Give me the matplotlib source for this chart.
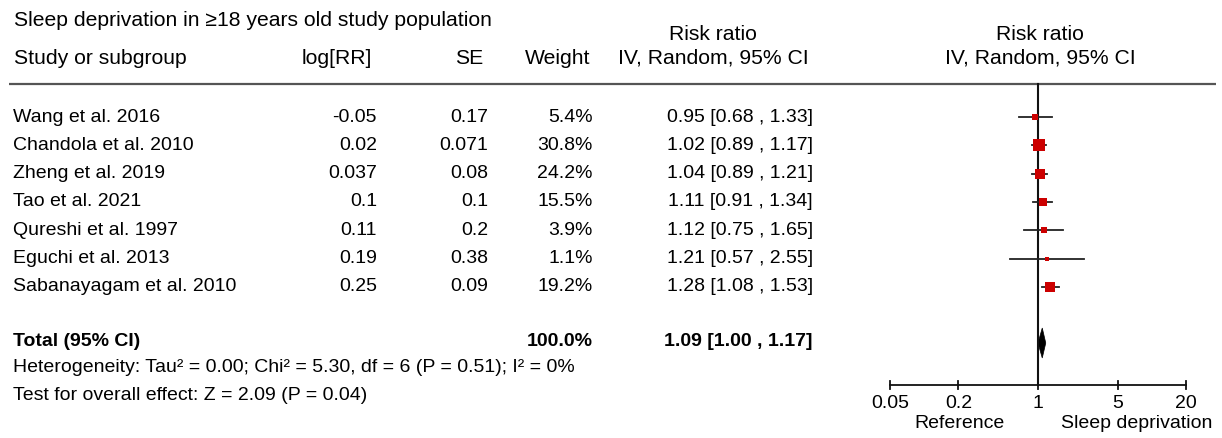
import matplotlib
matplotlib.use('Agg')
import matplotlib.pyplot as plt
from matplotlib.patches import Polygon
import numpy as np

plt.rcParams['font.family'] = ['Liberation Sans', 'DejaVu Sans']

# ---------------- data ----------------
title = "Sleep deprivation in \u226518 years old study population"
studies = ["Wang et al. 2016", "Chandola et al. 2010", "Zheng et al. 2019",
           "Tao et al. 2021", "Qureshi et al. 1997", "Eguchi et al. 2013",
           "Sabanayagam et al. 2010"]
log_rr = ["-0.05", "0.02", "0.037", "0.1", "0.11", "0.19", "0.25"]
se = ["0.17", "0.071", "0.08", "0.1", "0.2", "0.38", "0.09"]
weights = [5.4, 30.8, 24.2, 15.5, 3.9, 1.1, 19.2]
rr = [0.95, 1.02, 1.04, 1.11, 1.12, 1.21, 1.28]
ci_low = [0.68, 0.89, 0.89, 0.91, 0.75, 0.57, 1.08]
ci_high = [1.33, 1.17, 1.21, 1.34, 1.65, 2.55, 1.53]
total_rr, total_low, total_high = 1.09, 1.00, 1.17
total_weight = "100.0%"
heterogeneity = "Heterogeneity: Tau\u00b2 = 0.00; Chi\u00b2 = 5.30, df = 6 (P = 0.51); I\u00b2 = 0%"
overall_effect = "Test for overall effect: Z = 2.09 (P = 0.04)"
xticks = [0.05, 0.2, 1, 5, 20]
xticklabels = ["0.05", "0.2", "1", "5", "20"]
left_label, right_label = "Reference", "Sleep deprivation"

# ---------------- layout ----------------
W, H = 1222, 438
fig = plt.figure(figsize=(W / 100, H / 100), dpi=100)
ax = fig.add_axes([0, 0, 1, 1])
ax.set_xlim(0, W)
ax.set_ylim(H, 0)
ax.axis('off')

axf = fig.add_axes([890 / W, 0, 296 / W, 1])
axf.set_xscale('log')
axf.set_xlim(0.05, 20)
axf.set_ylim(H, 0)
axf.axis('off')

fs = 14.0      # table rows
fs_h = 15.2    # title / headers
fs_t = 14.0    # axis labels
row_y0, dy = 117, 28.33
ys = [row_y0 + i * dy for i in range(len(studies))]
y_total = 341
y_het, y_test = 367, 395
y_axis = 385

x_name, x_log, x_se, x_w, x_ci, x_rhead = 13, 377, 488, 593, 813, 1040
x_rr_head = 713

kw = dict(fontsize=fs, va='center', color='black')
kh = dict(fontsize=fs_h, va='center', color='black')
ax.text(x_name + 1, 20, title, ha='left', **kh)
ax.text(x_name + 1, 58, "Study or subgroup", ha='left', **kh)
ax.text(372, 58, "log[RR]", ha='right', **kh)
ax.text(483, 58, "SE", ha='right', **kh)
ax.text(590, 58, "Weight", ha='right', **kh)
ax.text(x_rr_head, 34, "Risk ratio", ha='center', **kh)
ax.text(x_rr_head, 58, "IV, Random, 95% CI", ha='center', **kh)
ax.text(x_rhead, 34, "Risk ratio", ha='center', **kh)
ax.text(x_rhead, 58, "IV, Random, 95% CI", ha='center', **kh)

ax.plot([9, 1216], [84, 84], color='#555555', lw=1.6, solid_capstyle='butt')

for i, y in enumerate(ys):
    ax.text(x_name, y, studies[i], ha='left', **kw)
    ax.text(x_log, y, log_rr[i], ha='right', **kw)
    ax.text(x_se, y, se[i], ha='right', **kw)
    ax.text(x_w, y, f"{weights[i]:.1f}%", ha='right', **kw)
    ax.text(x_ci, y, f"{rr[i]:.2f} [{ci_low[i]:.2f} , {ci_high[i]:.2f}]", ha='right', **kw)

ax.text(x_name, y_total, "Total (95% CI)", ha='left', fontweight='bold', **kw)
ax.text(x_w, y_total, total_weight, ha='right', fontweight='bold', **kw)
ax.text(x_ci, y_total, f"{total_rr:.2f} [{total_low:.2f} , {total_high:.2f}]",
        ha='right', fontweight='bold', **kw)
ax.text(x_name, y_het, heterogeneity, ha='left', **kw)
ax.text(x_name, y_test, overall_effect, ha='left', **kw)

# ---------------- forest ----------------
axf.plot([1, 1], [84, y_axis], color='#111111', lw=1.5, clip_on=False)
for i, y in enumerate(ys):
    axf.plot([ci_low[i], ci_high[i]], [y, y], color='#222222', lw=1.3, clip_on=False)
    side_px = 3 + 1.45 * np.sqrt(weights[i])
    axf.plot([rr[i]], [y], marker='s', ms=side_px * 0.72, color='#cc0000',
             mec='#cc0000', mew=0, ls='none', clip_on=False, zorder=3)

diamond = Polygon([(total_low, y_total + 2), (total_rr, y_total - 13),
                   (total_high, y_total + 2), (total_rr, y_total + 17)],
                  closed=True, facecolor='black', edgecolor='black', lw=0.5,
                  clip_on=False)
axf.add_patch(diamond)

axf.plot([xticks[0], xticks[-1]], [y_axis, y_axis], color='#111111', lw=1.3, clip_on=False)
for t, lab in zip(xticks, xticklabels):
    axf.plot([t, t], [y_axis - 4, y_axis + 4], color='#111111', lw=1.3, clip_on=False)
    axf.text(t, y_axis + 19, lab, ha='center', va='center', fontsize=fs_t)
ax.text(960, y_axis + 38, left_label, ha='center', va='center', fontsize=fs_t)
ax.text(1137, y_axis + 38, right_label, ha='center', va='center', fontsize=fs_t)

fig.savefig('out.png', dpi=100)
